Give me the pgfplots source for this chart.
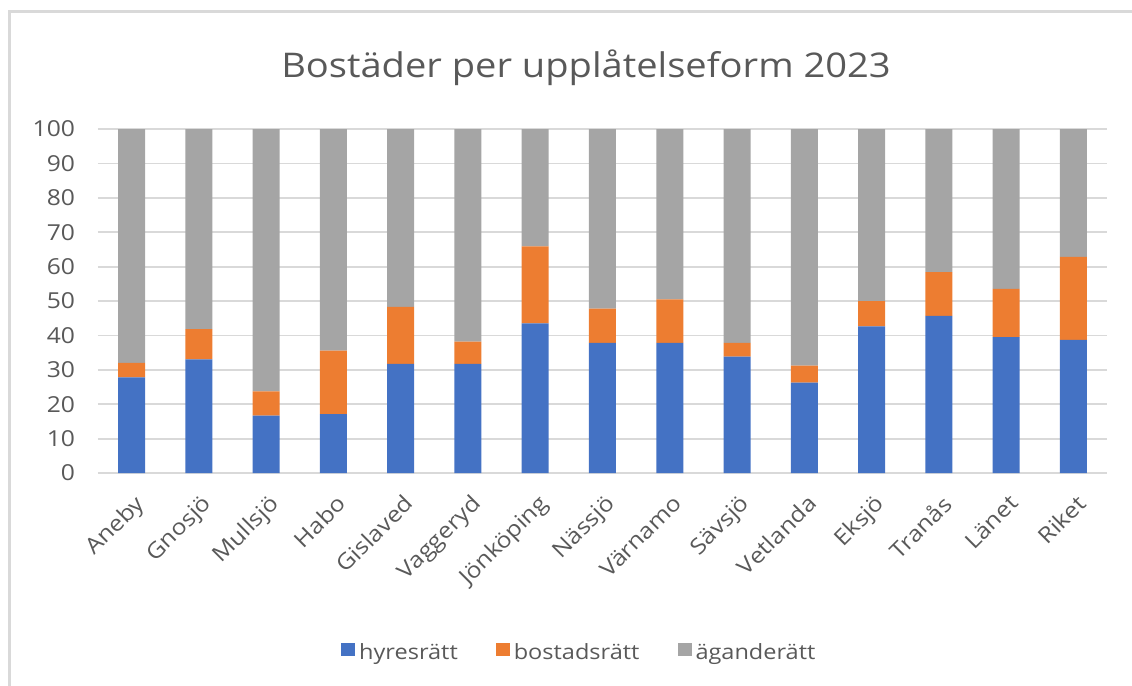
\documentclass[border=0pt]{standalone}
\usepackage{fontspec}
\setmainfont{Open Sans}[FakeStretch=1.12]
\usepackage{pgfplots}
\pgfplotsset{compat=1.18}

\definecolor{hyres}{HTML}{4472C4}
\definecolor{bostad}{HTML}{ED7D31}
\definecolor{agande}{HTML}{A5A5A5}
\definecolor{txt}{HTML}{595959}
\definecolor{gridc}{HTML}{D9D9D9}

% kommun, hyresrätt, bostadsrätt, äganderätt (procent)
\pgfplotstableread{
x hyr bos aga
0  27.8  4.2 68.0
1  33.0  8.8 58.2
2  16.7  7.0 76.3
3  17.1 18.5 64.4
4  31.7 16.6 51.7
5  31.7  6.5 61.8
6  43.5 22.4 34.1
7  37.8 10.0 52.2
8  37.8 12.7 49.5
9  33.8  4.0 62.2
10 26.3  4.9 68.8
11 42.6  7.4 50.0
12 45.7 12.7 41.6
13 39.5 14.0 46.5
14 38.7 24.1 37.2
}\data

\begin{document}
\begin{tikzpicture}
\begin{axis}[
  name=ax,
  scale only axis,
  width=504.5pt, height=172pt,
  ybar stacked,
  bar width=13.5pt,
  xmin=-0.5, xmax=14.5,
  ymin=0, ymax=100,
  ytick distance=10,
  xtick=data,
  xticklabels={Aneby,Gnosjö,Mullsjö,Habo,Gislaved,Vaggeryd,Jönköping,Nässjö,Värnamo,Sävsjö,Vetlanda,Eksjö,Tranås,Länet,Riket},
  axis line style={draw=none},
  major tick length=0pt,
  ymajorgrids,
  grid style={gridc, line width=0.9pt},
  tick label style={font=\fontsize{11}{13}\selectfont, text=txt},
  /pgf/number format/assume math mode=true,
  yticklabel style={xshift=-8pt},
  xticklabel style={rotate=45, anchor=north east, xshift=-3pt, yshift=-4.4pt},
  legend style={at={(0.478,-0.523)}, anchor=center, draw=none, fill=none,
    legend columns=3, font=\fontsize{10.5}{12}\selectfont, text=txt,
    /tikz/every even column/.append style={column sep=17pt}},
  legend image code/.code={\fill[#1] (0pt,-1.5pt) rectangle (7pt,5pt);},
]
\addplot[fill=hyres, draw=none] table[x=x, y=hyr] {\data};
\addplot[fill=bostad, draw=none] table[x=x, y=bos] {\data};
\addplot[fill=agande, draw=none] table[x=x, y=aga] {\data};
\legend{hyresrätt,bostadsrätt,äganderätt}
\end{axis}
\coordinate (O) at ([xshift=-49pt,yshift=-106.5pt]ax.south west);
\useasboundingbox (O) rectangle ++(566pt,343pt);
\draw[gridc, line width=1.5pt] ([xshift=4.75pt]O) -- ++(0,337pt) -- ++(570pt,0);
\node[anchor=base, text=txt, font=\fontsize{17}{20}\selectfont]
  at ([xshift=293pt,yshift=304pt]O) {Bostäder per upplåtelseform 2023};
\end{tikzpicture}
\end{document}
